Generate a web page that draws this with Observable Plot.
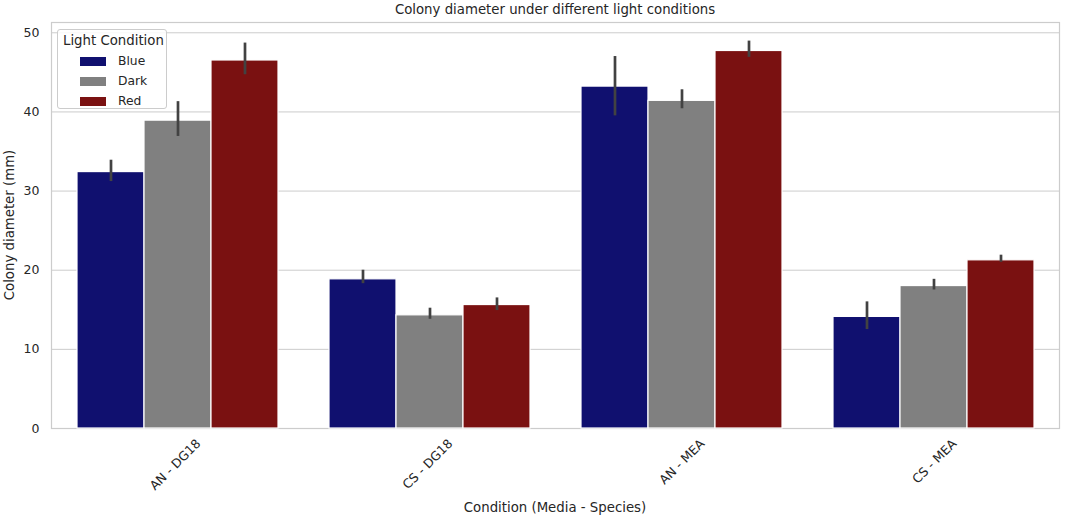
<!DOCTYPE html>
<html><head><meta charset="utf-8">
<script src="https://cdn.jsdelivr.net/npm/d3@7"></script>
<script src="https://cdn.jsdelivr.net/npm/@observablehq/plot@0.6"></script>
<style>
body{margin:0;background:#fff;font-family:"DejaVu Sans",sans-serif;color:#262626;}
#wrap{position:relative;width:1065px;height:518px;overflow:hidden;}
.ovl{position:absolute;white-space:nowrap;font-size:13.3px;line-height:16px;}
#title{left:50px;width:1010px;top:2px;text-align:center;}
#xlabel{left:50px;width:1010px;top:500px;text-align:center;}
#ylabel{left:10px;top:225px;transform:translate(-50%,-50%) rotate(-90deg);}
#legend{position:absolute;left:57px;top:29px;width:110px;height:80px;border:1px solid #cccccc;border-radius:3px;background:rgba(255,255,255,0.85);font-size:12.3px;box-sizing:border-box;}
#legend .lt{position:absolute;left:5px;top:3px;font-size:13.3px;line-height:16px;white-space:nowrap;}
#legend .it{position:absolute;left:22px;height:18px;white-space:nowrap;}
#legend .sw{position:absolute;left:0;top:4px;width:26px;height:9px;}
#legend .lb{position:absolute;left:38px;top:1px;line-height:14px;}
</style></head><body><div id="wrap"><div id="title" class="ovl"></div><div id="xlabel" class="ovl"></div><div id="ylabel" class="ovl"></div></div>
<script>
const chartTitle = "Colony diameter under different light conditions";
const xTitle = "Condition (Media - Species)";
const yTitle = "Colony diameter (mm)";
const legendTitle = "Light Condition";
const conditions = ["AN - DG18", "CS - DG18", "AN - MEA", "CS - MEA"];
const lights = ["Blue", "Dark", "Red"];
const colors = ["#10106f", "#808080", "#7a1111"];
const blueMean = [32.4, 18.85, 43.2, 14.1];
const blueLo   = [31.2, 18.3, 39.5, 12.5];
const blueHi   = [33.9, 20.0, 47.0, 16.0];
const darkMean = [38.9, 14.3, 41.4, 18.0];
const darkLo   = [36.9, 13.8, 40.4, 17.5];
const darkHi   = [41.3, 15.2, 42.8, 18.85];
const redMean  = [46.5, 15.6, 47.7, 21.25];
const redLo    = [44.7, 14.9, 46.9, 21.0];
const redHi    = [48.7, 16.5, 48.95, 21.9];
const yTicks = [0, 10, 20, 30, 40, 50];

const series = {Blue: [blueMean, blueLo, blueHi], Dark: [darkMean, darkLo, darkHi], Red: [redMean, redLo, redHi]};
const rows = [];
conditions.forEach((c, i) => lights.forEach(l => {
  const [m, lo, hi] = series[l];
  rows.push({cond: c, light: l, mean: m[i], lo: lo[i], hi: hi[i]});
}));

const chart = Plot.plot({
  width: 1065, height: 518,
  marginLeft: 50, marginRight: 5, marginTop: 22, marginBottom: 90,
  style: {fontFamily: "'DejaVu Sans', sans-serif", fontSize: "12.5px", color: "#262626", background: "white", overflow: "visible"},
  fx: {domain: conditions, paddingInner: 0, paddingOuter: 0, label: null},
  x: {domain: lights, paddingInner: 0, paddingOuter: 0.375, axis: null},
  y: {domain: [0, 51.3], label: null},
  color: {domain: lights, range: colors},
  marks: [
    Plot.gridY(yTicks, {stroke: "#cccccc", strokeOpacity: 1, strokeWidth: 1}),
    Plot.frame({facet: "super", stroke: "#cccccc", strokeWidth: 1.2}),
    Plot.axisY(yTicks, {tickSize: 0, tickPadding: 12, label: null}),
    Plot.axisFx({anchor: "bottom", tickRotate: -45, tickSize: 0, tickPadding: 13, dx: 21, label: null}),
    Plot.barY(rows, {fx: "cond", x: "light", y: "mean", fill: "light", stroke: "white", strokeWidth: 1.2}),
    Plot.ruleX(rows, {fx: "cond", x: "light", y1: "lo", y2: "hi", stroke: "#424242", strokeWidth: 2.7})
  ]
});
const wrap = document.getElementById("wrap");
wrap.insertBefore(chart, wrap.firstChild);
document.getElementById("title").textContent = chartTitle;
document.getElementById("xlabel").textContent = xTitle;
document.getElementById("ylabel").textContent = yTitle;

const lg = document.createElement("div");
lg.id = "legend";
const lt = document.createElement("div");
lt.className = "lt"; lt.textContent = legendTitle; lg.appendChild(lt);
lights.forEach((l, i) => {
  const it = document.createElement("div");
  it.className = "it"; it.style.top = (23 + i * 20) + "px";
  const sw = document.createElement("div");
  sw.className = "sw"; sw.style.background = colors[i];
  const lb = document.createElement("div");
  lb.className = "lb"; lb.textContent = l;
  it.appendChild(sw); it.appendChild(lb); lg.appendChild(it);
});
wrap.appendChild(lg);
</script></body></html>
